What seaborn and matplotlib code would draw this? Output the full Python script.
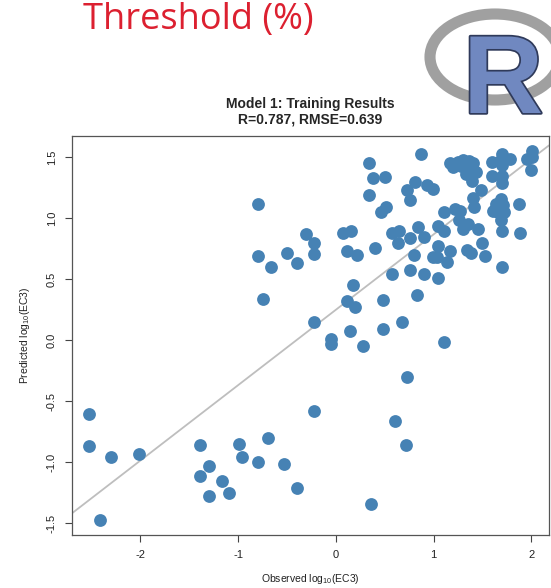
import numpy as np
import pandas as pd
import seaborn as sns
import matplotlib.pyplot as plt
from matplotlib.patches import Ellipse
import matplotlib.patheffects as pe

# observed / predicted log10(EC3)
obs_low = [-2.53, -2.53, -2.30, -2.41, -2.01, -1.39, -1.39, -1.30, -1.30, -1.17,
           -1.09, -0.99, -0.96, -0.80, -0.70, -0.53, -0.40]
pred_low = [-0.60, -0.87, -0.96, -1.47, -0.93, -0.86, -1.11, -1.03, -1.28, -1.15,
            -1.25, -0.85, -0.96, -1.00, -0.80, -1.01, -1.21]

obs_midleft = [-0.80, -0.31, -0.80, -0.50, -0.66, -0.40, -0.75, -0.22, -0.22, -0.22,
               -0.05, -0.05, 0.28, 1.11, 0.73, -0.22, 0.60, 0.72, 0.36]
pred_midleft = [1.12, 0.87, 0.69, 0.72, 0.60, 0.63, 0.34, 0.80, 0.71, 0.15,
                0.01, -0.03, -0.05, -0.01, -0.30, -0.58, -0.66, -0.86, -1.34]

obs_mid = [0.87, 0.34, 0.38, 0.50, 0.34, 0.46, 0.51, 0.81, 0.73, 0.76, 0.93, 0.99,
           0.075, 0.15, 0.57, 0.65, 0.84, 0.63, 0.76, 0.90, 0.11, 0.22, 0.40,
           1.04, 1.11, 1.11, 1.04, 0.80, 0.99, 1.03, 1.17, 1.14, 0.76, 0.90, 1.04,
           0.57, 0.17, 0.11, 0.20, 0.48, 0.83, 0.14, 0.48, 0.68]
pred_mid = [1.53, 1.45, 1.33, 1.34, 1.19, 1.05, 1.09, 1.30, 1.23, 1.15, 1.27, 1.24,
            0.88, 0.90, 0.88, 0.90, 0.93, 0.80, 0.84, 0.85, 0.73, 0.70, 0.76,
            0.94, 1.05, 0.90, 0.77, 0.70, 0.68, 0.68, 0.73, 0.64, 0.58, 0.54, 0.51,
            0.54, 0.45, 0.32, 0.27, 0.33, 0.37, 0.08, 0.09, 0.15]

obs_high = [1.22, 1.27, 1.26, 1.40, 1.41, 1.48, 1.30, 1.35, 1.45, 1.49, 1.34, 1.38,
            1.52, 1.70, 1.70, 1.88, 1.87, 1.69, 1.64, 1.71, 1.61, 1.66, 1.72, 1.69,
            1.60, 1.70, 1.70, 1.60, 1.70, 1.69, 1.78, 1.70, 1.95, 2.01, 2.01, 2.00,
            1.17, 1.20, 1.25, 1.30, 1.30, 1.34, 1.35, 1.40, 1.39, 1.43, 1.39,
            1.28, 1.36, 1.33]
pred_high = [1.08, 1.06, 0.99, 1.17, 1.09, 1.23, 0.91, 0.95, 0.91, 0.80, 0.74, 0.72,
             0.69, 0.60, 0.90, 0.88, 1.12, 1.16, 1.12, 1.11, 1.06, 1.05, 1.05, 0.99,
             1.35, 1.35, 1.29, 1.46, 1.53, 1.48, 1.49, 1.44, 1.49, 1.55, 1.50, 1.40,
             1.45, 1.42, 1.46, 1.48, 1.44, 1.41, 1.38, 1.45, 1.37, 1.38, 1.31,
             1.43, 1.47, 1.36]

# fitted line
fit_slope = 0.618
fit_intercept = 0.251

title_text = "Model 1: Training Results\nR=0.787, RMSE=0.639"

df = pd.DataFrame({
    "Observed": obs_low + obs_midleft + obs_mid + obs_high,
    "Predicted": pred_low + pred_midleft + pred_mid + pred_high,
})

sns.set_style("ticks")
plt.rcParams['font.family'] = ['Liberation Sans', 'DejaVu Sans']
plt.rcParams['axes.unicode_minus'] = False
plt.rcParams['mathtext.default'] = 'regular'

fig = plt.figure(figsize=(5.51, 5.88), dpi=100)
ax = fig.add_axes([0.1307, 0.0901, 0.8657, 0.6786])

ax.axline((0, fit_intercept), slope=fit_slope, color="#bebebe", lw=1.3, zorder=1)
sns.scatterplot(data=df, x="Observed", y="Predicted", ax=ax, color="#4682b4",
                s=85, linewidth=0, zorder=2)

ax.set_xlim(-2.70, 2.18)
ax.set_ylim(-1.596, 1.675)
ax.set_xticks([-2, -1, 0, 1, 2])
ax.set_yticks([-1.5, -1.0, -0.5, 0.0, 0.5, 1.0, 1.5])
ax.set_yticklabels(["-1.5", "-1.0", "-0.5", "0.0", "0.5", "1.0", "1.5"],
                   rotation=90, va="center")
ax.tick_params(axis="both", labelsize=8, length=5, width=0.8, color="#444444",
               labelcolor="#222222")
ax.tick_params(axis="x", pad=6)
ax.tick_params(axis="y", pad=6)
for sp in ax.spines.values():
    sp.set_color("#555555")
    sp.set_linewidth(0.9)

ax.set_xlabel("Observed log$_{10}$(EC3)", fontsize=7.5, color="#222222")
ax.set_ylabel("Predicted log$_{10}$(EC3)", fontsize=7.5, color="#222222")
ax.xaxis.set_label_coords(0.5, -0.11)
ax.xaxis.label.set_va("center")
ax.yaxis.set_label_coords(-0.0985, 0.5)
ax.yaxis.label.set_va("center")

ax.set_title(title_text, fontsize=10, fontweight="bold", pad=9, linespacing=1.15)

# slide decorations around the chart
fig.text(0.150, 1 - 29 / 588, "Threshold (%)", fontsize=26, color="#dc2030",
         family=["Open Sans", "DejaVu Sans"], va="baseline", ha="left")

ring = Ellipse((495 / 551, 1 - 57 / 588), 130 / 551, 86 / 588, fill=False,
               edgecolor="#a0a0a0", lw=8, transform=fig.transFigure, zorder=0)
fig.patches.append(ring)
rtxt = fig.text(463 / 551, 1 - 113 / 588, "R", fontsize=80, fontweight="bold",
                color="#7088c0", va="baseline", ha="left")
rtxt.set_path_effects([pe.withStroke(linewidth=2.5, foreground="#2f3a5a")])

plt.savefig("out.png", dpi=100)
